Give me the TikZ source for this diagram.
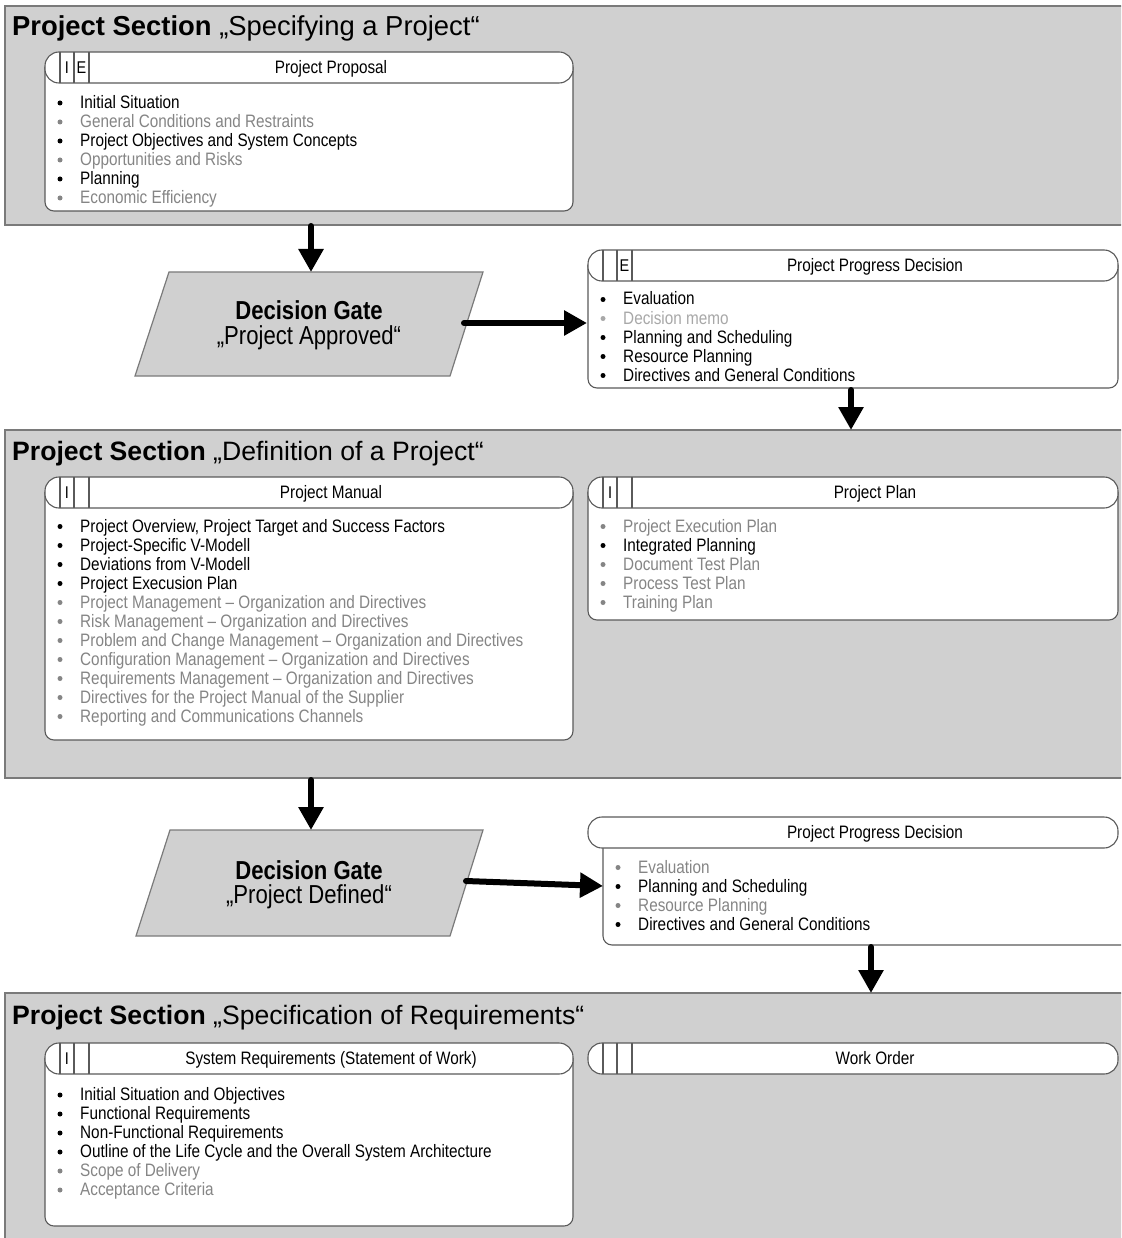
\documentclass[tikz,border=0pt]{standalone}
\usepackage{fontspec}
\setmainfont{Liberation Sans}
\newfontfamily\narrowfont{Liberation Sans}[FakeStretch=0.85]
\usetikzlibrary{arrows.meta}

\definecolor{sectfill}{HTML}{D0D0D0}
\definecolor{sectline}{HTML}{7A7A7A}
\definecolor{cardline}{HTML}{5A5A5A}
\definecolor{ink}{HTML}{000000}
\definecolor{dim}{HTML}{858585}
\definecolor{faint}{HTML}{A8A8A8}

\tikzset{
  sect/.style={fill=sectfill, draw=sectline, line width=1.2pt, inner sep=0pt, outer sep=0pt, anchor=north west},
  cardedge/.style={draw=cardline, line width=1.1pt, fill=white},
  cellrule/.style={draw=cardline, line width=1.1pt},
  itm/.style={font=\narrowfont\fontsize{18}{19}\selectfont, inner sep=0pt, anchor=base west},
  hdr/.style={font=\narrowfont\fontsize{18}{19}\selectfont, inner sep=0pt, anchor=base},
  celltxt/.style={font=\narrowfont\fontsize{17}{18}\selectfont, inner sep=0pt, anchor=base},
  title/.style={font=\fontsize{26.6}{30}\selectfont, inner sep=0pt, anchor=base west},
  gatebox/.style={fill=sectfill, draw=sectline, line width=1.2pt},
  gatetxt/.style={font=\narrowfont\fontsize{26}{28}\selectfont, inner sep=0pt, anchor=base},
  flow/.style={line width=6pt, line cap=round, -{Triangle[width=24pt, length=23pt]}},
}

% header bar of a work product: name, left, top, right, caption
\newcommand\cardhead[5]{%
  \draw[cardedge, rounded corners=14pt] (#2,#3) rectangle (#4,#3+31);
  \node[hdr] (#1) at ({(#2+44+#4)/2}, #3+21.5) {#5};
}
% the three small cells at the left of a header: name, left, top, first, second
\newcommand\headcells[5]{%
  \draw[cellrule] (#2+15,#3) -- (#2+15,#3+31) (#2+29,#3) -- (#2+29,#3+31) (#2+44,#3) -- (#2+44,#3+31);
  \node[celltxt] (#1a) at (#2+22,#3+21.5) {#4};
  \node[celltxt] (#1b) at (#2+36.5,#3+21.5) {#5};
}
% body of a work product: left, top, right, bottom
\newcommand\cardbody[4]{%
  \draw[cardedge, rounded corners=9pt] (#1,#2) -- (#1,#4) -- (#3,#4) -- (#3,#2);
}
% bulleted topics: prefix, bullet x, first baseline, list of colour/text
\newcommand\topics[4]{%
  \foreach \c/\t [count=\i] in {#4} {
    \fill[\c] (#2, {#3+19*(\i-1)-5.5}) circle (2.5pt);
    \node[itm, text=\c] (#1\i) at (#2+20, {#3+19*(\i-1)}) {\t};
  }
}

\begin{document}
\begin{tikzpicture}[x=1pt, y=-1pt]
\useasboundingbox (0,0) rectangle (1121,1238);
\clip (0,0) rectangle (1121,1238);
\fill[white] (0,0) rectangle (1121,1238);

% ---------- project sections ----------
\node[sect, minimum width=1135pt, minimum height=219pt] (secA) at (5,6) {};
\node[title, font=\fontsize{27.4}{30}\selectfont] (secAtitle) at (12,35.5) {\textbf{Project Section} „Specifying a Project“};

\node[sect, minimum width=1135pt, minimum height=348pt] (secB) at (5,430) {};
\node[title] (secBtitle) at (12,460.5) {\textbf{Project Section} „Definition of a Project“};

\node[sect, minimum width=1135pt, minimum height=260pt] (secC) at (5,993) {};
\node[title] (secCtitle) at (12,1024.5) {\textbf{Project Section} „Specification of Requirements“};

% ---------- Specifying a Project ----------
\cardbody{45}{67}{573}{211}
\cardhead{proposal}{45}{52}{573}{Project Proposal}
\headcells{proposalcell}{45}{52}{I}{E}
\topics{pp}{60}{108.5}{ink/Initial Situation, dim/General Conditions and Restraints,
  ink/Project Objectives and System Concepts, dim/Opportunities and Risks,
  ink/Planning, dim/Economic Efficiency}

% ---------- gate: project approved ----------
\draw[gatebox] (169,272) -- (483,272) -- (450,376) -- (135,376) -- cycle;
\node[gatetxt] (gateA) at (309,319) {\bfseries Decision Gate};
\node[gatetxt] (gateAname) at (309,344) {„Project Approved“};

\cardbody{588}{265}{1118}{388}
\cardhead{progressA}{588}{250}{1118}{Project Progress Decision}
\headcells{progressAcell}{588}{250}{}{E}
\topics{da}{603}{305}{ink/Evaluation, faint/Decision memo, ink/Planning and Scheduling,
  ink/Resource Planning, ink/Directives and General Conditions}

% ---------- Definition of a Project ----------
\cardbody{45}{492}{573}{740}
\cardhead{manual}{45}{477}{573}{Project Manual}
\headcells{manualcell}{45}{477}{I}{}
\topics{pm}{60}{532}{ink/{Project Overview, Project Target and Success Factors},
  ink/Project-Specific V-Modell, ink/Deviations from V-Modell, ink/Project Execusion Plan,
  dim/Project Management – Organization and Directives,
  dim/Risk Management – Organization and Directives,
  dim/Problem and Change Management – Organization and Directives,
  dim/Configuration Management – Organization and Directives,
  dim/Requirements Management – Organization and Directives,
  dim/Directives for the Project Manual of the Supplier,
  dim/Reporting and Communications Channels}

\cardbody{588}{492}{1118}{620}
\cardhead{plan}{588}{477}{1118}{Project Plan}
\headcells{plancell}{588}{477}{I}{}
\topics{pl}{603}{532}{dim/Project Execution Plan, ink/Integrated Planning,
  dim/Document Test Plan, dim/Process Test Plan, dim/Training Plan}

% ---------- gate: project defined ----------
\draw[gatebox] (170,830) -- (483,830) -- (450,936) -- (136,936) -- cycle;
\node[gatetxt] (gateB) at (309,879) {\bfseries Decision Gate};
\node[gatetxt] (gateBname) at (309,903) {„Project Defined“};

\cardbody{603}{832}{1140}{945}
\cardhead{progressB}{588}{817}{1118}{Project Progress Decision}
\topics{db}{618}{873}{dim/Evaluation, ink/Planning and Scheduling,
  dim/Resource Planning, ink/Directives and General Conditions}

% ---------- Specification of Requirements ----------
\cardbody{45}{1058}{573}{1226}
\cardhead{sysreq}{45}{1043}{573}{System Requirements (Statement of Work)}
\headcells{sysreqcell}{45}{1043}{I}{}
\topics{sr}{60}{1100.5}{ink/Initial Situation and Objectives, ink/Functional Requirements,
  ink/Non-Functional Requirements,
  ink/Outline of the Life Cycle and the Overall System Architecture,
  dim/Scope of Delivery, dim/Acceptance Criteria}

\cardhead{workorder}{588}{1043}{1118}{Work Order}
\headcells{workordercell}{588}{1043}{}{}

% ---------- flow arrows ----------
\coordinate (secAout) at (311,226);
\coordinate (gateAin) at (311,272);
\coordinate (gateAout) at (464,323);
\coordinate (progressAin) at (587,323);
\coordinate (progressAout) at (851,390);
\coordinate (secBin) at (851,430);
\coordinate (secBout) at (311,780);
\coordinate (gateBin) at (311,830);
\coordinate (gateBout) at (466,881);
\coordinate (progressBin) at (603,886);
\coordinate (progressBout) at (871,947);
\coordinate (secCin) at (871,993);

\draw[flow] (secAout) -- (gateAin);
\draw[flow] (gateAout) -- (progressAin);
\draw[flow] (progressAout) -- (secBin);
\draw[flow] (secBout) -- (gateBin);
\draw[flow] (gateBout) -- (progressBin);
\draw[flow] (progressBout) -- (secCin);
\end{tikzpicture}
\end{document}
